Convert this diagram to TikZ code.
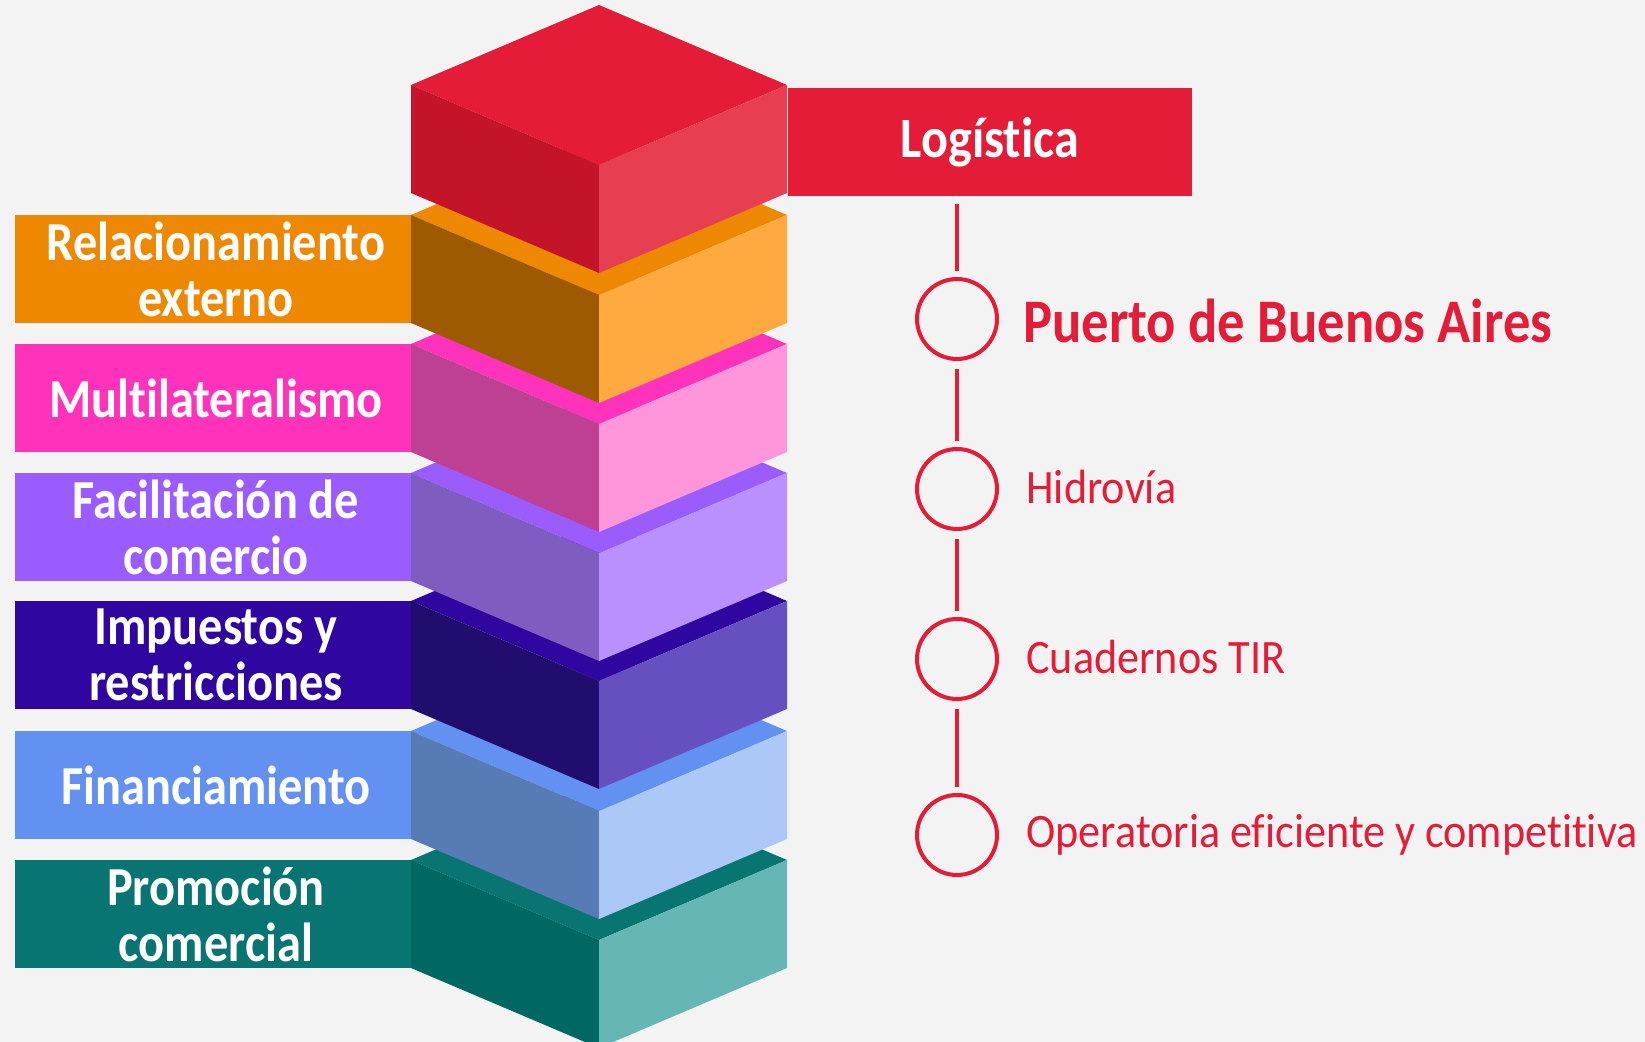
\documentclass[tikz,border=0pt]{standalone}
\usepackage{fontspec}
\setmainfont{Carlito}[FakeStretch=0.92, Ligatures=NoCommon,
	BoldFeatures={FakeStretch=0.88}]

\definecolor{fondo}{HTML}{F3F3F3}
\definecolor{rojo}{HTML}{E41C38}
\definecolor{rojoIzq}{HTML}{C41429}
\definecolor{rojoDer}{HTML}{E83E52}
\definecolor{naranja}{HTML}{EE8800}
\definecolor{naranjaIzq}{HTML}{9E5A00}
\definecolor{naranjaDer}{HTML}{FFAA40}
\definecolor{rosa}{HTML}{FF33BB}
\definecolor{rosaIzq}{HTML}{BE4093}
\definecolor{rosaDer}{HTML}{FF96DA}
\definecolor{lila}{HTML}{9B5CFF}
\definecolor{lilaIzq}{HTML}{7F5CBF}
\definecolor{lilaDer}{HTML}{BA90FF}
\definecolor{violeta}{HTML}{2F06A0}
\definecolor{violetaIzq}{HTML}{210D6D}
\definecolor{violetaDer}{HTML}{6650C0}
\definecolor{azul}{HTML}{6291F1}
\definecolor{azulIzq}{HTML}{577BB5}
\definecolor{azulDer}{HTML}{ABC8F7}
\definecolor{verde}{HTML}{087572}
\definecolor{verdeIzq}{HTML}{006763}
\definecolor{verdeDer}{HTML}{66B6B6}

\tikzset{
	etiqueta/.style={fill=#1, text=white, font=\fontsize{27.5}{28}\selectfont\bfseries,
		minimum width=201pt, minimum height=54pt, align=center, inner sep=0pt},
	hito/.style={circle, draw=rojo, line width=2pt, minimum size=40pt, inner sep=0pt},
	linea/.style={draw=rojo, line width=2pt, shorten <=4pt, shorten >=3pt},
	tema/.style={anchor=base west, inner sep=0pt, text=rojo, font=\fontsize{24}{28}\selectfont},
}

% bloque: y arriba-izquierda, tapa, cara izquierda, cara derecha
\newcommand{\bloque}[4]{%
	\fill[#2] (411,#1) -- (599,#1-80) -- (787,#1) -- (599,#1+80) -- cycle;
	\fill[#3] (411,#1) -- (599,#1+80) -- (599,#1+188) -- (411,#1+108) -- cycle;
	\fill[#4] (599,#1+80) -- (787,#1) -- (787,#1+108) -- (599,#1+188) -- cycle;
}

\begin{document}
\begin{tikzpicture}[x=0.5pt,y=-0.5pt]
	\fill[fondo] (0,0) rectangle (1645,1042);
	\useasboundingbox (0,0) rectangle (1645,1042);
	% etiquetas (el borde derecho queda bajo los bloques)
	\node[etiqueta=naranja] (rel) at (216,269) {Relacionamiento\\externo};
	\node[etiqueta=rosa] (multi) at (216,398) {Multilateralismo};
	\node[etiqueta=lila] (facil) at (216,527) {Facilitación de\\comercio};
	\node[etiqueta=violeta] (imp) at (216,655) {Impuestos y\\restricciones};
	\node[etiqueta=azul] (fin) at (216,785) {Financiamiento};
	\node[etiqueta=verde] (promo) at (216,914) {Promoción\\comercial};
	% bloques
	\bloque{860}{verde}{verdeIzq}{verdeDer}
	\bloque{731}{azul}{azulIzq}{azulDer}
	\bloque{601}{violeta}{violetaIzq}{violetaDer}
	\bloque{473}{lila}{lilaIzq}{lilaDer}
	\bloque{344}{rosa}{rosaIzq}{rosaDer}
	\bloque{215}{naranja}{naranjaIzq}{naranjaDer}
	\bloque{85}{rojo}{rojoIzq}{rojoDer}
	\node[etiqueta=rojo, minimum width=202pt, font=\fontsize{28.5}{29}\selectfont\bfseries] (logi) at (990,142) {Logística};
	% hitos
	\node[hito] (c1) at (957,319) {};
	\node[hito] (c2) at (957,489) {};
	\node[hito] (c3) at (957,659) {};
	\node[hito] (c4) at (957,835) {};
	\draw[linea] (c1.north |- logi.south) -- (c1.north);
	\draw[linea] (c1) -- (c2);
	\draw[linea] (c2) -- (c3);
	\draw[linea] (c3) -- (c4);
	\node[tema, font=\fontsize{31}{32}\selectfont\bfseries] (puerto) at (1023,343) {Puerto de Buenos Aires};
	\node[tema] (hidro) at (1026,504) {Hidrovía};
	\node[tema] (tir) at (1026,674) {Cuadernos TIR};
	\node[tema] (oper) at (1026,848) {Operatoria eficiente y competitiva};
\end{tikzpicture}
\end{document}
